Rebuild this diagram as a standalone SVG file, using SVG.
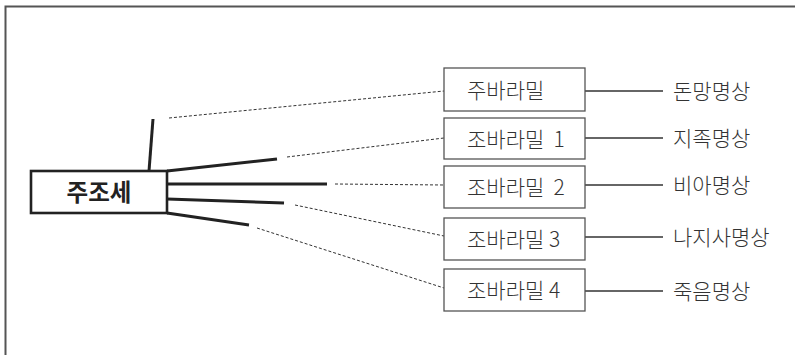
<svg xmlns="http://www.w3.org/2000/svg" width="795" height="355" viewBox="0 0 795 355">
<style>
.frame{fill:none;stroke:#555;stroke-width:2}
.main{fill:#fff;stroke:#222;stroke-width:2.6}
.box{fill:#fff;stroke:#555;stroke-width:1.3}
.thick{stroke:#222;stroke-width:3;fill:none;stroke-linecap:butt}
.dot{stroke:#333;stroke-width:1;stroke-dasharray:3 2;fill:none}
.link{stroke:#333;stroke-width:1.3;fill:none}
.t{font-family:"Noto Sans CJK KR","Noto Sans",sans-serif;font-size:21px;font-weight:300;fill:#333}
.tm{font-family:"Noto Sans CJK KR","Noto Sans",sans-serif;font-size:23.5px;font-weight:bold;fill:#222;text-anchor:middle}
</style>
<rect width="795" height="355" fill="#fff"/>
<path class="frame" d="M5.5,360 V6.5 H800"/>
<g id="connectors">
<line class="thick" x1="149" y1="171" x2="153" y2="119"/>
<line class="thick" x1="167" y1="171" x2="277" y2="159"/>
<line class="thick" x1="167" y1="184" x2="327" y2="184"/>
<line class="thick" x1="167" y1="199" x2="284" y2="203"/>
<line class="thick" x1="167" y1="213" x2="249" y2="225"/>
<line class="dot" x1="169" y1="118" x2="444" y2="91"/>
<line class="dot" x1="287" y1="157" x2="444" y2="138"/>
<line class="dot" x1="335" y1="184" x2="444" y2="185"/>
<line class="dot" x1="295" y1="205" x2="444" y2="236"/>
<line class="dot" x1="257" y1="228" x2="444" y2="288"/>
<line class="link" x1="585" y1="91" x2="663" y2="91"/>
<line class="link" x1="585" y1="138" x2="663" y2="138"/>
<line class="link" x1="585" y1="185" x2="663" y2="185"/>
<line class="link" x1="585" y1="237" x2="663" y2="237"/>
<line class="link" x1="585" y1="291" x2="663" y2="291"/>
</g>
<g id="main">
<rect class="main" x="31" y="171" width="136" height="42"/>
<text class="tm" x="99" y="200.5">주조세</text>
</g>
<g id="b1">
<rect class="box" x="444" y="68" width="141" height="43"/>
<text class="t" x="467" y="97.5">주바라밀</text>
</g>
<g id="b2">
<rect class="box" x="444" y="118" width="141" height="41"/>
<text class="t" x="467" y="146.5" xml:space="preserve">조바라밀  1</text>
</g>
<g id="b3">
<rect class="box" x="444" y="166" width="141" height="42"/>
<text class="t" x="467" y="195" xml:space="preserve">조바라밀  2</text>
</g>
<g id="b4">
<rect class="box" x="444" y="218" width="141" height="42"/>
<text class="t" x="467" y="247">조바라밀 3</text>
</g>
<g id="b5">
<rect class="box" x="444" y="269" width="141" height="42"/>
<text class="t" x="467" y="298">조바라밀 4</text>
</g>
<g id="l1"><text class="t" x="673" y="98.5">돈망명상</text></g>
<g id="l2"><text class="t" x="673" y="146">지족명상</text></g>
<g id="l3"><text class="t" x="673" y="193">비아명상</text></g>
<g id="l4"><text class="t" x="673" y="245">나지사명상</text></g>
<g id="l5"><text class="t" x="673" y="299">죽음명상</text></g>
</svg>
